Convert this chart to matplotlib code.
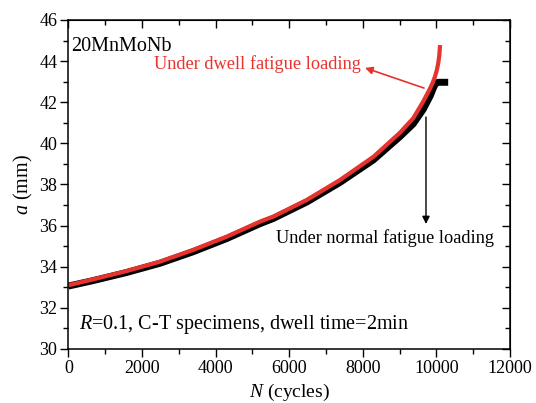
import matplotlib
matplotlib.use("Agg")
import matplotlib.pyplot as plt
from matplotlib.ticker import MultipleLocator

plt.rcParams['font.family'] = ['Liberation Serif', 'DejaVu Serif']
plt.rcParams['mathtext.fontset'] = 'custom'
plt.rcParams['mathtext.rm'] = 'Liberation Serif'
plt.rcParams['mathtext.it'] = 'Liberation Serif:italic'

# Normal fatigue loading (black)
N_normal = [0, 680, 1580, 2490, 3390, 4300, 5200, 5570, 6480, 7380, 8290,
            9010, 9370, 9640, 9830, 9920, 9980, 10040, 10320]
a_normal = [33.06, 33.33, 33.72, 34.17, 34.73, 35.37, 36.09, 36.35, 37.15,
            38.10, 39.20, 40.33, 40.95, 41.65, 42.30, 42.70, 42.92, 42.97,
            42.97]

# Dwell fatigue loading (red)
N_dwell = [0, 680, 1580, 2490, 3390, 4300, 5200, 5570, 6480, 7380, 8290,
           9010, 9370, 9640, 9830, 9900, 9960, 10010, 10050, 10080, 10100]
a_dwell = [33.10, 33.39, 33.79, 34.25, 34.82, 35.46, 36.19, 36.44, 37.25,
           38.22, 39.35, 40.52, 41.22, 42.03, 42.68, 42.95, 43.24, 43.55,
           43.90, 44.30, 44.78]

x_ticks = [0, 2000, 4000, 6000, 8000, 10000, 12000]
y_ticks = [30, 32, 34, 36, 38, 40, 42, 44, 46]

RED = '#e8322d'

fig = plt.figure(figsize=(5.36, 4.03), dpi=100)
ax = fig.add_axes([0.1276, 0.134, 0.8239, 0.8164])

ax.plot(N_normal, a_normal, color='black', lw=5.0, solid_capstyle='butt',
        solid_joinstyle='round')
ax.plot(N_dwell, a_dwell, color=RED, lw=3.0, solid_capstyle='butt',
        solid_joinstyle='round')

ax.set_xlim(0, 12000)
ax.set_ylim(30, 46)
ax.set_xticks(x_ticks)
ax.set_yticks(y_ticks)
ax.xaxis.set_minor_locator(MultipleLocator(1000))
ax.yaxis.set_minor_locator(MultipleLocator(1))
ax.tick_params(which='both', direction='out', labelsize=13, width=1.0, pad=2)
ax.tick_params(which='major', length=6)
ax.tick_params(which='minor', length=3.5)
for s in ax.spines.values():
    s.set_linewidth(1.1)

sx = ax.secondary_xaxis('top')
sx.set_xticks(x_ticks)
sx.xaxis.set_minor_locator(MultipleLocator(1000))
sx.tick_params(which='both', direction='in', labeltop=False, width=1.0)
sx.tick_params(which='major', length=6)
sx.tick_params(which='minor', length=3.5)
sy = ax.secondary_yaxis('right')
sy.set_yticks(y_ticks)
sy.yaxis.set_minor_locator(MultipleLocator(1))
sy.tick_params(which='both', direction='in', labelright=False, width=1.0)
sy.tick_params(which='major', length=6)
sy.tick_params(which='minor', length=3.5)

ax.set_xlabel(r'$\it{N}$ (cycles)', fontsize=14, labelpad=3.5)
ax.set_ylabel(r'$\it{a}$ (mm)', fontsize=14.5, labelpad=3)

ax.text(0.006, 0.918, '20MnMoNb', transform=ax.transAxes, fontsize=14.5,
        va='center', ha='left')
ax.text(0.194, 0.866, 'Under dwell fatigue loading', transform=ax.transAxes,
        fontsize=13.2, va='center', ha='left', color=RED)
ax.text(0.47, 0.337, 'Under normal fatigue loading', transform=ax.transAxes,
        fontsize=13.2, va='center', ha='left', color='black')
ax.text(0.024, 0.073, r'$\it{R}$=0.1, C-T specimens, dwell time=2min',
        transform=ax.transAxes, fontsize=14.5, va='center', ha='left')

ax.annotate('', xy=(8060, 43.67), xytext=(9663, 42.69),
            arrowprops=dict(arrowstyle='-|>', color=RED, lw=1.2,
                            mutation_scale=11, shrinkA=0, shrinkB=0))
ax.annotate('', xy=(9717, 36.08), xytext=(9717, 41.28),
            arrowprops=dict(arrowstyle='-|>', color='black', lw=1.0,
                            mutation_scale=11, shrinkA=0, shrinkB=0))

fig.savefig('out.png', dpi=100)
